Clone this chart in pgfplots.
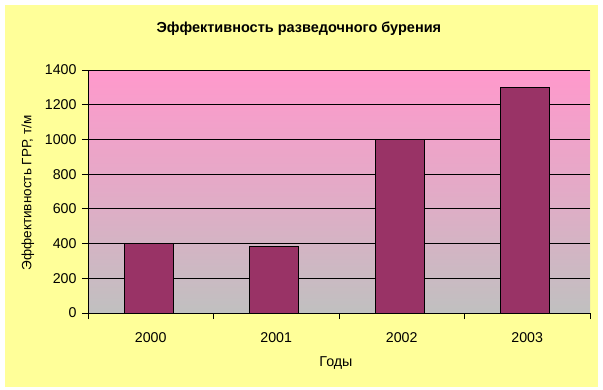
\documentclass[border=0pt]{standalone}
\usepackage{fontspec}
\setmainfont{Liberation Sans}
\usepackage{pgfplots}
\pgfplotsset{compat=1.18}
\definecolor{bgyellow}{HTML}{FFFF99}
\definecolor{pinktop}{HTML}{FF99CC}
\definecolor{graybot}{HTML}{C0C0C0}
\definecolor{barcol}{HTML}{993366}
\begin{document}
\begin{tikzpicture}[x=1pt,y=1pt]
\fill[white] (0,0) rectangle (603,389);
\fill[bgyellow] (5,2) rectangle (598,384);
\begin{axis}[
  at={(88pt,76pt)}, anchor=south west,
  scale only axis, width=502pt, height=243pt,
  xmin=-0.5, xmax=3.5, ymin=0, ymax=1400,
  xtick={0,1,2,3}, xticklabels={2000,2001,2002,2003},
  minor xtick={-0.5,0.5,1.5,2.5,3.5},
  ytick={0,200,...,1400},
  scaled y ticks=false,
  /pgf/number format/1000 sep={},
  /pgf/number format/assume math mode=true,
  ymajorgrids, grid style={black, line width=0.9pt},
  axis x line*=bottom, axis y line*=left,
  axis line style={-, black, line width=0.9pt},
  tick align=outside, major tick length=6pt, minor tick length=6pt,
  major x tick style={draw=none},
  tick style={black, line width=0.9pt},
  axis background/.style={shade, top color=pinktop, bottom color=graybot, middle color=pinktop!55!graybot},
  ybar, bar width=0.39, bar shift=-0.015,
  tick label style={font=\fontsize{14.2}{16}\selectfont},
  xticklabel style={yshift=-10pt},
  yticklabel style={xshift=-2pt},
  title={\bfseries Эффективность разведочного бурения},
  title style={font=\fontsize{14.5}{17}\selectfont, at={(axis description cs:0.42,1.177)}, anchor=center, yshift=-8pt},
  xlabel={Годы},
  xlabel style={font=\fontsize{14.3}{16}\selectfont, at={(axis description cs:0.494,-0.205)}, anchor=center},
  ylabel={Эффективность ГРР, т/м},
  ylabel style={font=\fontsize{13.5}{16}\selectfont, at={(axis description cs:-0.1195,0.494)}, anchor=center, rotate=0},
]
\addplot[fill=barcol, draw=black, line width=0.9pt] coordinates {(0,400) (1,382) (2,1000) (3,1300)};
\end{axis}
\end{tikzpicture}
\end{document}
